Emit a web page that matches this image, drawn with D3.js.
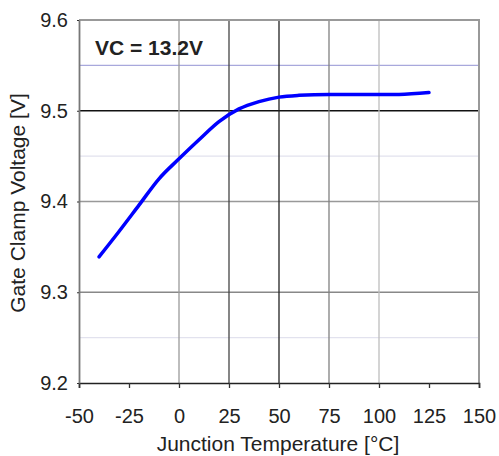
<!DOCTYPE html>
<meta charset="utf-8">
<style>
body { margin: 0; background: #fff; }
svg text { font-family: "Liberation Sans", Arial, sans-serif; fill: #222; }
</style>
<svg width="499" height="456"></svg>
<script src="https://d3js.org/d3.v7.min.js"></script>
<script>
"use strict";

// data
var temps = [-40, -30, -20, -10, 0, 10, 20, 30, 40, 50, 60, 75, 100, 110, 125];
var volts = [9.339, 9.367, 9.396, 9.425, 9.447, 9.468, 9.488, 9.502, 9.510, 9.515, 9.517, 9.518, 9.518, 9.518, 9.520];

var xTicks = [-50, -25, 0, 25, 50, 75, 100, 125, 150];
var yTicks = [9.2, 9.3, 9.4, 9.5, 9.6];
var xGrid = [0, 25, 50, 75, 100];
var yGrid = [9.3, 9.4, 9.5];
var yMinor = [9.25, 9.45, 9.55];

var label = "VC = 13.2V";
var xTitle = "Junction Temperature [°C]";
var yTitle = "Gate Clamp Voltage [V]";

// line shades, same order as the grid arrays
var xGridColor = ["#9a9a9a", "#444", "#222", "#808080", "#bdbdbd"];
var yGridColor = ["#888", "#999", "#111"];
var yMinorColor = ["#e2e2ee", "#e2e2ee", "#a8a8dc"];

var svg = d3.select("svg"),
    pLeft = 79, pRight = 479, pTop = 20, pBottom = 383;

var x = d3.scaleLinear().domain([-50, 150]).range([pLeft, pRight]);
var y = d3.scaleLinear().domain([9.2, 9.6]).range([pBottom, pTop]);

var grid = svg.append("g");

grid.selectAll(".minor").data(yMinor).enter().append("line")
    .attr("x1", pLeft).attr("x2", pRight)
    .attr("y1", function(d) { return y(d); })
    .attr("y2", function(d) { return y(d); })
    .attr("stroke", function(d, i) { return yMinorColor[i]; })
    .attr("stroke-width", 1.3);

grid.selectAll(".hy").data(yGrid).enter().append("line")
    .attr("x1", pLeft).attr("x2", pRight)
    .attr("y1", function(d) { return y(d); })
    .attr("y2", function(d) { return y(d); })
    .attr("stroke", function(d, i) { return yGridColor[i]; })
    .attr("stroke-width", 1.3);

grid.selectAll(".vx").data(xGrid).enter().append("line")
    .attr("y1", pTop).attr("y2", pBottom)
    .attr("x1", function(d) { return x(d); })
    .attr("x2", function(d) { return x(d); })
    .attr("stroke", function(d, i) { return xGridColor[i]; })
    .attr("stroke-width", 1.3);

// frame: top and right gray
svg.append("path")
    .attr("d", "M" + pLeft + "," + pTop + "H" + pRight + "V" + pBottom)
    .attr("fill", "none")
    .attr("stroke", "#999")
    .attr("stroke-width", 2);

var xAxis = svg.append("g")
    .attr("transform", "translate(0," + pBottom + ")")
    .call(d3.axisBottom(x).tickValues(xTicks).tickSize(5).tickSizeOuter(5)
      .tickFormat(function(d) { return String(d); }));
xAxis.select(".domain").attr("stroke", "#222").attr("stroke-width", 1.6);
xAxis.selectAll(".tick line").attr("stroke", "#333").attr("stroke-width", 1.3);
xAxis.selectAll(".tick text")
    .attr("y", 40).attr("dy", 0)
    .style("font-size", "20px")
    .style("font-family", "Liberation Sans, Arial, sans-serif")
    .attr("fill", "#222");

var yAxis = svg.append("g")
    .attr("transform", "translate(" + pLeft + ",0)")
    .call(d3.axisLeft(y).tickValues(yTicks).tickSize(2).tickSizeOuter(0).tickFormat(d3.format(".1f")));
yAxis.select(".domain").attr("stroke", "#777").attr("stroke-width", 1.8);
yAxis.selectAll(".tick line").attr("stroke", "#333");
yAxis.selectAll(".tick text")
    .attr("x", -11)
    .style("font-size", "20px")
    .style("font-family", "Liberation Sans, Arial, sans-serif")
    .attr("fill", "#222");

var line = d3.line()
    .x(function(d, i) { return x(temps[i]); })
    .y(function(d) { return y(d); })
    .curve(d3.curveMonotoneX);

svg.append("path")
    .datum(volts)
    .attr("d", line)
    .attr("fill", "none")
    .attr("stroke", "#0000ff")
    .attr("stroke-width", 3.5)
    .attr("stroke-linecap", "round")
    .attr("stroke-linejoin", "round");

svg.append("text")
    .attr("x", 95).attr("y", 55)
    .style("font-size", "21px")
    .style("font-weight", "bold")
    .attr("fill", "#111")
    .text(label);

svg.append("text")
    .attr("x", (pLeft + pRight) / 2 - 1).attr("y", 451)
    .attr("text-anchor", "middle")
    .style("font-size", "21px")
    .text(xTitle);

svg.append("text")
    .attr("transform", "translate(25,203) rotate(-90)")
    .attr("text-anchor", "middle")
    .style("font-size", "21px")
    .text(yTitle);
</script>
